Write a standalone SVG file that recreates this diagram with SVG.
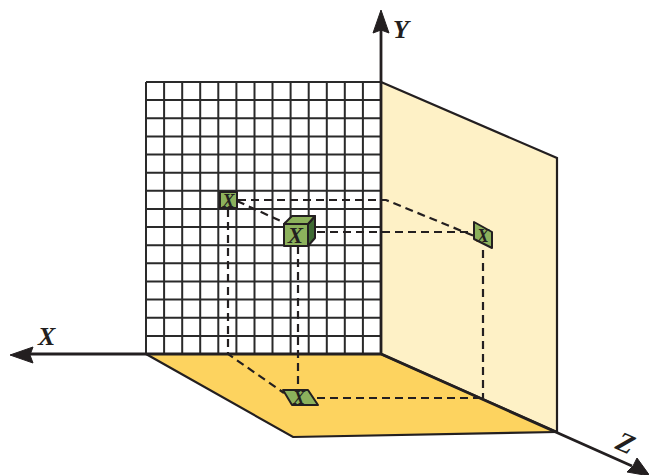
<svg xmlns="http://www.w3.org/2000/svg" width="649" height="475" viewBox="0 0 649 475">
<style>
.ax{fill:none;stroke:#231f20;stroke-width:2.8}
.edge{fill:none;stroke:#231f20;stroke-width:2.2}
.grid{fill:none;stroke:#2a2a2a;stroke-width:2}
.dash{fill:none;stroke:#231f20;stroke-width:2.2;stroke-dasharray:8 5}
.g{fill:#8cb15c;stroke:#231f20;stroke-width:2;stroke-linejoin:round}
.dk{fill:#3f6b34;stroke:#231f20;stroke-width:2;stroke-linejoin:round}
.t{font-family:"Liberation Serif","DejaVu Serif",serif;font-style:italic;font-weight:bold;fill:#231f20}
</style>
<rect width="649" height="475" fill="#fff"/>
<g id="floor"><polygon points="146,354 381,354 557,432 293,437" fill="#fdd35f"/><path class="edge" d="M146,354L293,437L557,432"/></g>
<g id="wall"><polygon points="381,82 557,158 557,432 381,354" fill="#fef1c6"/><path class="edge" d="M381,82L557,158V432L381,354"/></g>
<g id="grid"><path class="grid" d="M146,82H381M146,100.1H381M146,118.3H381M146,136.4H381M146,154.5H381M146,172.7H381M146,190.8H381M146,208.9H381M146,227.1H381M146,245.2H381M146,263.3H381M146,281.5H381M146,299.6H381M146,317.7H381M146,335.9H381M146,82V354M164.1,82V354M182.2,82V354M200.2,82V354M218.3,82V354M236.4,82V354M254.5,82V354M272.5,82V354M290.6,82V354M308.7,82V354M326.8,82V354M344.8,82V354M362.9,82V354M381,82V354"/></g>
<g id="connectors">
<path class="dash" d="M238,200H386L474,236"/>
<path class="dash" d="M237,201L285,223"/>
<path class="dash" d="M317,232H474"/>
<path class="dash" d="M228,209V354L284,393"/>
<path class="dash" d="M298,246V390"/>
<path class="dash" d="M317,398H483"/>
<path class="dash" d="M483,250V398"/>
</g>
<g id="axes">
<path class="ax" d="M381,354V30M381,354H30M146,354H381L632,466"/>
<polygon points="381,10 373,33 381,30 389,33" fill="#231f20" stroke="#231f20"/>
<polygon points="10,355 33,347 30,355 33,363" fill="#231f20" stroke="#231f20"/>
<polygon points="650,476 627,472 633,466 637,458" fill="#231f20" stroke="#231f20"/>
<text class="t" x="393" y="38" font-size="26">Y</text>
<text class="t" x="38" y="345" font-size="26">X</text>
<text class="t" transform="translate(614 448) rotate(24)" font-size="28">Z</text>
</g>
<g id="node-xy"><rect class="g" x="220" y="192" width="17" height="16"/><text class="t" x="228.500" y="207" font-size="18" text-anchor="middle">X</text></g>
<g id="node-cube"><polygon class="dk" points="308,224 315,216 315,238 308,246"/><polygon class="g" points="284,224 292,216 315,216 308,224"/><rect class="g" x="284" y="224" width="24" height="22"/><text class="t" x="295.500" y="243" font-size="23" text-anchor="middle">X</text></g>
<g id="node-yz"><polygon class="g" points="474,222 492,232 492,248 474,239"/><text class="t" x="483" y="242" font-size="18" text-anchor="middle">X</text></g>
<g id="node-xz"><polygon class="g" points="283,390 308,390 318,405 292,405"/><text class="t" x="299" y="404" font-size="18" text-anchor="middle">X</text></g>
</svg>
